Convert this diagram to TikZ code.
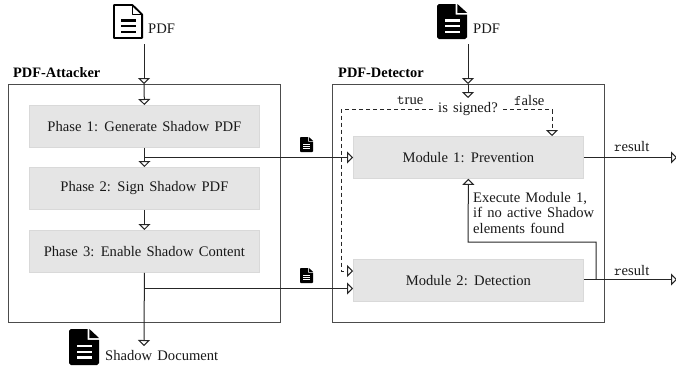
\documentclass[tikz,border=0pt]{standalone}
\usepackage{fontspec}
\setmainfont[WordSpace=1.42]{Liberation Serif}
\usetikzlibrary{arrows.meta}
\tikzset{
  x=1pt,y=-1pt,
  base/.style={font=\fontsize{14.6pt}{16pt}\selectfont,inner sep=0pt,text=black!90},
  panel/.style={draw=black!70,line width=1.2pt,minimum width=272pt,minimum height=238pt,anchor=north west},
  stage/.style={base,draw=black!15,fill=black!10,line width=.8pt,minimum width=230pt,minimum height=42pt,anchor=north west},
  label/.style={base,anchor=west},
  head/.style={font=\bfseries\fontsize{14.4pt}{14pt}\selectfont,inner sep=0pt,anchor=west},
  flow/.style={draw=black!85,line width=1pt,-{Triangle[open,length=6pt,width=12pt]}},
  dashflow/.style={flow,dash pattern=on 4pt off 3pt},
  pics/docfilled/.style 2 args={code={
    \begin{scope}[xscale=#1,yscale=#2]
    \fill[black] (0.06,0) -- (0.62,0) -- (0.62,0.3) -- (1,0.3) -- (1,0.95) -- (0.94,1) -- (0.06,1) -- (0,0.95) -- (0,0.05) -- cycle;
    \fill[black] (0.68,0) -- (1,0.25) -- (0.68,0.25) -- cycle;
    \fill[white] (0.25,0.44) rectangle (0.75,0.5);
    \fill[white] (0.25,0.6) rectangle (0.75,0.66);
    \fill[white] (0.25,0.76) rectangle (0.75,0.82);
    \end{scope}
  }},
  pics/docopen/.style 2 args={code={
    \begin{scope}[xscale=#1,yscale=#2]
    \draw[black,line width=1.8pt,line join=round] (0.03,0.03) -- (0.65,0.03) -- (0.97,0.3) -- (0.97,0.97) -- (0.03,0.97) -- cycle;
    \draw[black,line width=1.4pt,line join=round] (0.65,0.03) -- (0.65,0.3) -- (0.97,0.3);
    \fill[black] (0.25,0.44) rectangle (0.75,0.5);
    \fill[black] (0.25,0.6) rectangle (0.75,0.66);
    \fill[black] (0.25,0.76) rectangle (0.75,0.82);
    \end{scope}
  }}
}
\begin{document}
\begin{tikzpicture}
\useasboundingbox (0,0) rectangle (676,367);
\clip (0,0) rectangle (676,367);
% panels
\node[panel] (att) at (8,84) {};
\node[panel] (det) at (332,84) {};
\node[head] (atttitle) at (13,73) {PDF-Attacker};
\node[head] (dettitle) at (338,73) {PDF-Detector};
% stages
\node[stage] (p1) at (29,105) {Phase 1: Generate Shadow PDF};
\node[stage] (p2) at (29,167) {Phase 2: Sign Shadow PDF};
\node[stage] (p3) at (29,230) {Phase 3: Enable Shadow Content};
\node[stage] (m1) at (353,136) {Module 1: Prevention};
\node[stage] (m2) at (353,259) {Module 2: Detection};
% icons
\pic at (113,4) {docopen={30}{35}};
\pic at (437,4) {docfilled={30}{35}};
\pic at (69,329) {docfilled={30}{36}};
\pic at (300,137) {docfilled={13}{15}};
\pic at (300,268) {docfilled={13}{15}};
% text labels
\node[label] (pdfa) at (148,29) {PDF};
\node[label] (pdfb) at (473,29) {PDF};
\node[label] (shadow) at (105,355) {Shadow Document};
\node[label] (signed) at (438,109) {is signed?};
\node[label] (ltrue) at (397,101) {\texttt{t}rue};
\node[label] (lfalse) at (514,101) {\texttt{f}alse};
\node[label] (res1) at (614,147) {\texttt{r}esult};
\node[label] (res2) at (614,270) {\texttt{r}esult};
\node[label,align=left] (exec) at (473,213) {Execute Module 1,\\if no active Shadow\\elements found};
% coordinates
\coordinate (a0) at (144,44);
\coordinate (a1) at (144,84);
\coordinate (b0) at (468,44);
\coordinate (b1) at (468,84);
\coordinate (b2) at (468,98);
\coordinate (split1) at (144,157.5);
\coordinate (split3) at (144,288.5);
\coordinate (shadowend) at (144,346);
\coordinate (m1w) at (353,157.5);
\coordinate (m2w) at (353,288.5);
\coordinate (m2wd) at (353,271);
\coordinate (dl) at (341,109.5);
\coordinate (dr) at (552,109.5);
\coordinate (m1top) at (552,136);
\coordinate (end1) at (677,157.5);
\coordinate (end2) at (677,279.5);
\coordinate (up0) at (596,279.5);
\coordinate (up1) at (596,242);
\coordinate (up2) at (468,242);
\coordinate (dstart) at (433,109.5);
\coordinate (dstart2) at (503,109.5);
% connectors
\draw[flow] (a0) -- (a1);
\draw[flow] (a1) -- (p1.north);
\draw[flow] (b0) -- (b1);
\draw[flow] (b1) -- (b2);
\draw[flow] (p1.south) -- (p2.north);
\draw[flow] (p2.south) -- (p3.north);
\draw[flow] (p3.south) -- (shadowend);
\draw[flow] (split1) -- (m1w);
\draw[flow] (split3) -- (m2w);
\draw[dashflow] (dstart) -- (dl) -- (dl |- m2wd) -- (m2wd);
\draw[dashflow] (dstart2) -- (dr) -- (m1top);
\draw[flow] (m1.east |- end1) -- (end1);
\draw[flow] (m2.east |- end2) -- (end2);
\draw[flow] (up0) -- (up1) -- (up2) -- (m1.south);
\end{tikzpicture}
\end{document}
